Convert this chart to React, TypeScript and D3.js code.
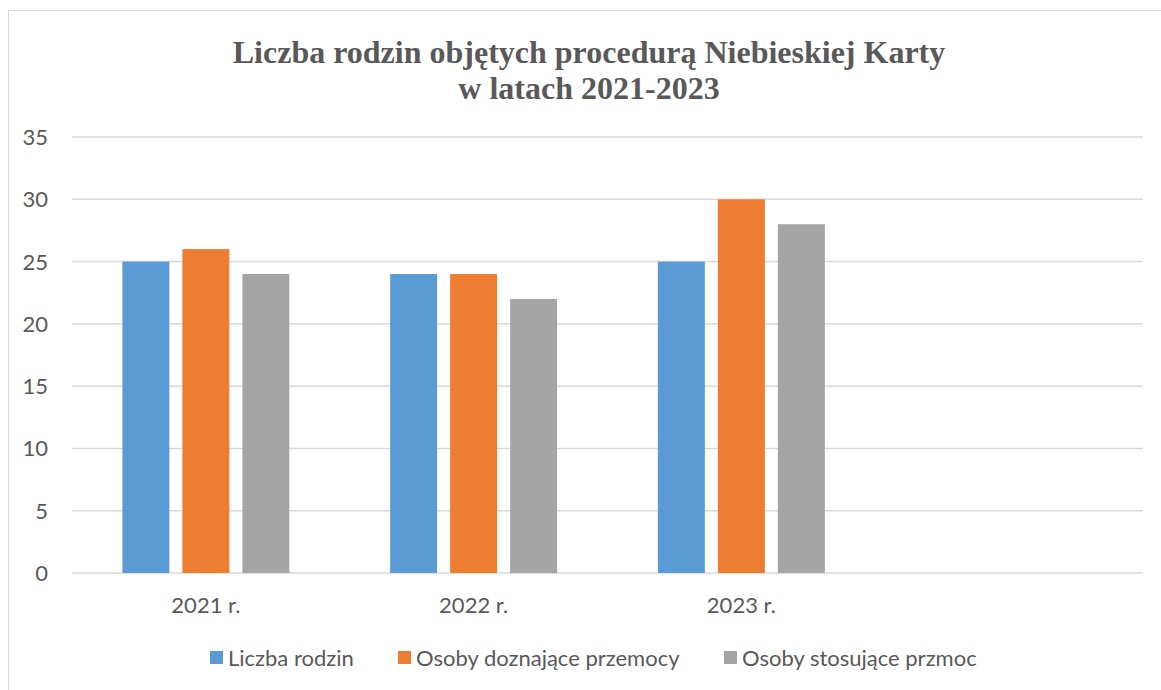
import React from "react";
import * as d3 from "d3";

const categories = ["2021 r.", "2022 r.", "2023 r.", ""];
const seriesNames = ["Liczba rodzin", "Osoby doznające przemocy", "Osoby stosujące przmoc"];
const liczbaRodzin = [25, 24, 25, null];
const osobyDoznajace = [26, 24, 30, null];
const osobyStosujace = [24, 22, 28, null];
const yTicks = [0, 5, 10, 15, 20, 25, 30, 35];
const colors = ["#5B9BD5", "#ED7D31", "#A5A5A5"];

export default function App() {
  const W = 1161, H = 690;
  const left = 72, right = 1143, top = 137, bottom = 573;
  const x = d3.scaleBand<string>().domain(categories.map((c, i) => String(i))).range([left, right]);
  const inner = d3.scaleBand<string>().domain(seriesNames).range([0, x.bandwidth()]).paddingInner(0.217).paddingOuter(0.84);
  const y = d3.scaleLinear().domain([0, 35]).range([bottom, top]);
  const series = [liczbaRodzin, osobyDoznajace, osobyStosujace];
  const font = "Lato, 'Open Sans', sans-serif";
  const fs = 22;
  const legendX = [210, 398, 724];
  return (
    <svg width={W} height={H} style={{ position: "absolute", left: 0, top: 0 }}>
      <rect x={0} y={0} width={W} height={H} fill="#fff" />
      <rect x={8.5} y={10.5} width={1160} height={700} fill="#fff" stroke="#D9D9D9" strokeWidth={1} />
      <text x={589} y={63} textAnchor="middle" fontFamily="'Liberation Serif', 'Times New Roman', serif" fontWeight="bold" fontSize={32} fill="#595959">
        Liczba rodzin objętych procedurą Niebieskiej Karty
      </text>
      <text x={589} y={99} textAnchor="middle" fontFamily="'Liberation Serif', 'Times New Roman', serif" fontWeight="bold" fontSize={32} fill="#595959">
        w latach 2021-2023
      </text>
      {yTicks.map((t) => (
        <g key={t}>
          <line x1={left} x2={right} y1={y(t)} y2={y(t)} stroke="#D9D9D9" strokeWidth={1.5} />
          <text x={48} y={y(t) + 8} textAnchor="end" fontFamily={font} fontSize={fs} fill="#595959">{t}</text>
        </g>
      ))}
      {series.map((vals, si) =>
        vals.map((v, ci) =>
          v == null ? null : (
            <rect key={si + "-" + ci}
              x={(x(String(ci)) as number) + (inner(seriesNames[si]) as number)}
              y={y(v)} width={inner.bandwidth()} height={y(0) - y(v)} fill={colors[si]} />
          )
        )
      )}
      {categories.map((c, i) => (
        <text key={i} x={(x(String(i)) as number) + x.bandwidth() / 2} y={613} textAnchor="middle" fontFamily={font} fontSize={fs} fill="#595959">{c}</text>
      ))}
      {seriesNames.map((s, i) => (
        <g key={s}>
          <rect x={legendX[i]} y={651} width={13} height={13} fill={colors[i]} />
          <text x={legendX[i] + 18} y={666} fontFamily={font} fontSize={fs} fill="#595959">{s}</text>
        </g>
      ))}
    </svg>
  );
}
